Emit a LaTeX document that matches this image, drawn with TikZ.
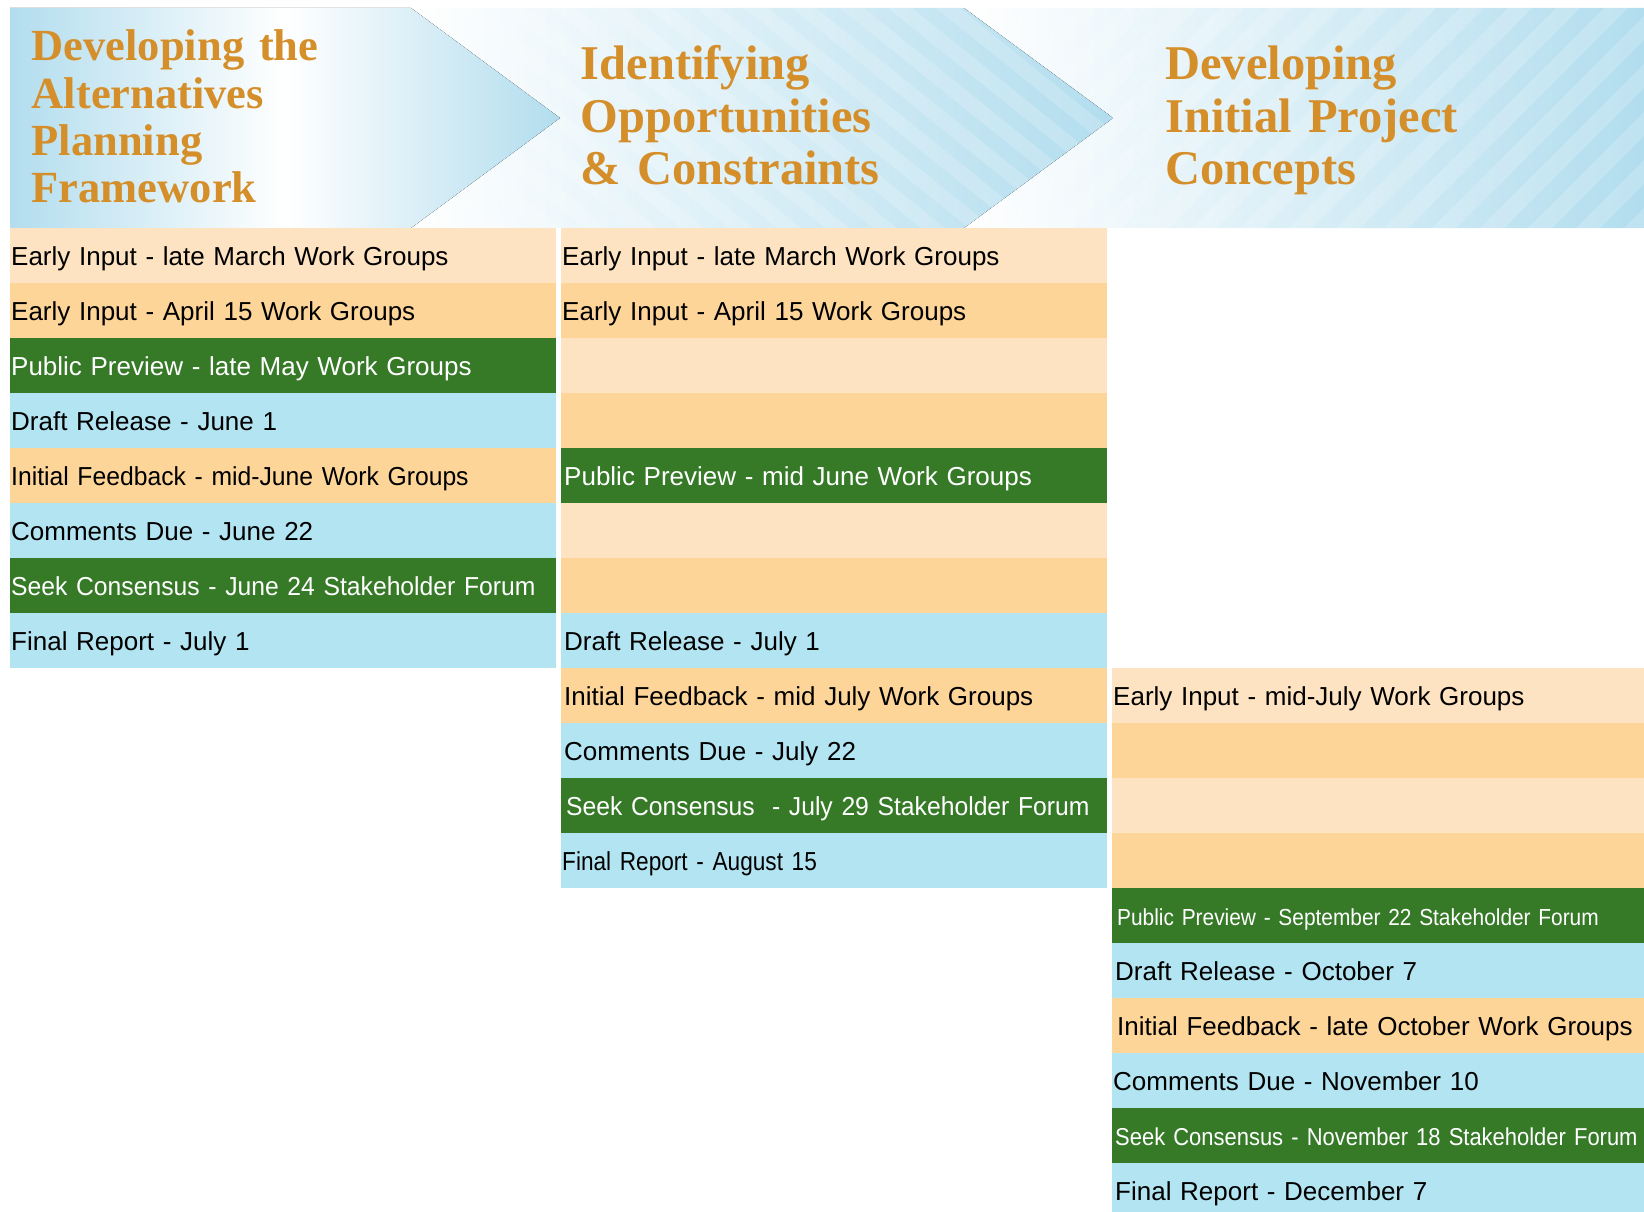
\documentclass[tikz,border=0pt]{standalone}
\usepackage{fontspec}
\setmainfont{Liberation Sans}
\newfontfamily\titulo{Liberation Serif}
\newfontfamily\justa[FakeStretch=0.95]{Liberation Sans}
\newfontfamily\estreita[FakeStretch=0.9]{Liberation Sans}
\newfontfamily\apertada[FakeStretch=0.87]{Liberation Sans}

\definecolor{pessego}{RGB}{253,227,193}
\definecolor{damasco}{RGB}{253,213,152}
\definecolor{floresta}{RGB}{54,122,40}
\definecolor{ceu}{RGB}{179,228,242}
\definecolor{ceutopo}{RGB}{178,221,238}
\definecolor{ocre}{RGB}{213,143,42}

\tikzset{
  etapa/.style={anchor=north west, minimum height=55pt, inner xsep=1pt, inner ysep=0pt,
    text height=24pt, text depth=5pt, align=left, font=\fontsize{26}{30}\selectfont},
  claro/.style={etapa, fill=pessego},
  escuro/.style={etapa, fill=damasco},
  verde/.style={etapa, fill=floresta, text=white},
  azul/.style={etapa, fill=ceu},
  largo/.style={minimum width=545.5pt, text width=543.5pt},
  curto/.style={minimum width=532pt, text width=530pt},
  titulos/.style={anchor=base west, inner sep=0pt, text=ocre, align=left, text width=520pt}
}

\begin{document}
\begin{tikzpicture}[x=1pt, y=-1pt]

    \useasboundingbox (0,0) rectangle (1644,1212);

    % Faixa do topo
    \begin{scope}
        \clip (964,8) -- (1644,8) -- (1644,228) -- (964,228) -- (1113,118) -- cycle;
        \fill[left color=white, right color=ceutopo] (964,8) rectangle (1644,228);
        \foreach \x in {760,808,...,1700}
            \fill[white, opacity=0.18] (\x,228) -- ++(24,0) -- ++(220,-220) -- ++(-24,0) -- cycle;
    \end{scope}

    \begin{scope}
        \clip (411,8) -- (964,8) -- (1113,118) -- (964,228) -- (411,228) -- (560,118) -- cycle;
        \fill[left color=white, right color=ceutopo] (411,8) rectangle (1113,228);
        \foreach \x in {120,168,...,1120}
            \fill[white, opacity=0.18] (\x,8) -- ++(24,0) -- ++(273,220) -- ++(-24,0) -- cycle;
    \end{scope}

    \fill[left color=ceutopo, right color=ceutopo, middle color=white]
        (10,8) -- (411,8) -- (560,118) -- (411,228) -- (10,228) -- cycle;

    % Titulos
    \node[titulos, font=\titulo\bfseries\fontsize{44.5}{47.3}\selectfont] (t1) at (31.5,61)
        {Developing the\\Alternatives\\Planning\\Framework};
    \node[titulos, font=\titulo\bfseries\fontsize{48.5}{52.5}\selectfont] (t2) at (580.5,80)
        {Identifying\\Opportunities\\\& Constraints};
    \node[titulos, font=\titulo\bfseries\fontsize{48.5}{52.5}\selectfont] (t3) at (1165,80)
        {Developing\\Initial Project\\Concepts};

    % Coluna 1
    \node[claro, largo] (a1) at (10,228) {Early Input - late March Work Groups};
    \node[escuro, largo] (a2) at (10,283) {Early Input - April 15 Work Groups};
    \node[verde, largo] (a3) at (10,338) {Public Preview - late May Work Groups};
    \node[azul, largo] (a4) at (10,393) {Draft Release - June 1};
    \node[escuro, largo, font=\justa\fontsize{26}{30}\selectfont] (a5) at (10,448) {Initial Feedback - mid-June Work Groups};
    \node[azul, largo] (a6) at (10,503) {Comments Due - June 22};
    \node[verde, largo, font=\justa\fontsize{26}{30}\selectfont] (a7) at (10,558) {Seek Consensus - June 24 Stakeholder Forum};
    \node[azul, largo] (a8) at (10,613) {Final Report - July 1};

    % Coluna 2
    \node[claro, largo] (b1) at (561,228) {Early Input - late March Work Groups};
    \node[escuro, largo] (b2) at (561,283) {Early Input - April 15 Work Groups};
    \node[claro, largo] (b3) at (561,338) {};
    \node[escuro, largo] (b4) at (561,393) {};
    \node[verde, largo] (b5) at (561,448) {\hspace*{2pt}Public Preview - mid June Work Groups};
    \node[claro, largo] (b6) at (561,503) {};
    \node[escuro, largo] (b7) at (561,558) {};
    \node[azul, largo] (b8) at (561,613) {\hspace*{2pt}Draft Release - July 1};
    \node[escuro, largo] (b9) at (561,668) {\hspace*{2pt}Initial Feedback - mid July Work Groups};
    \node[azul, largo] (b10) at (561,723) {\hspace*{2pt}Comments Due - July 22};
    \node[verde, largo, font=\justa\fontsize{26}{30}\selectfont] (b11) at (561,778) {\hspace*{4pt}Seek Consensus~ - July 29 Stakeholder Forum};
    \node[azul, largo, font=\apertada\fontsize{26}{30}\selectfont] (b12) at (561,833) {Final Report - August 15};

    % Coluna 3
    \node[claro, curto] (c1) at (1112,668) {Early Input - mid-July Work Groups};
    \node[escuro, curto] (c2) at (1112,723) {};
    \node[claro, curto] (c3) at (1112,778) {};
    \node[escuro, curto] (c4) at (1112,833) {};
    \node[verde, curto, font=\estreita\fontsize{23.2}{28}\selectfont] (c5) at (1112,888) {\hspace*{4pt}Public Preview - September 22 Stakeholder Forum};
    \node[azul, curto] (c6) at (1112,943) {\hspace*{2pt}Draft Release - October 7};
    \node[escuro, curto] (c7) at (1112,998) {\hspace*{4pt}Initial Feedback - late October Work Groups};
    \node[azul, curto] (c8) at (1112,1053) {Comments Due - November 10};
    \node[verde, curto, font=\estreita\fontsize{24.4}{28}\selectfont] (c9) at (1112,1108) {\hspace*{2pt}Seek Consensus - November 18 Stakeholder Forum};
    \node[azul, curto] (c10) at (1112,1163) {\hspace*{2pt}Final Report - December 7};

\end{tikzpicture}
\end{document}
